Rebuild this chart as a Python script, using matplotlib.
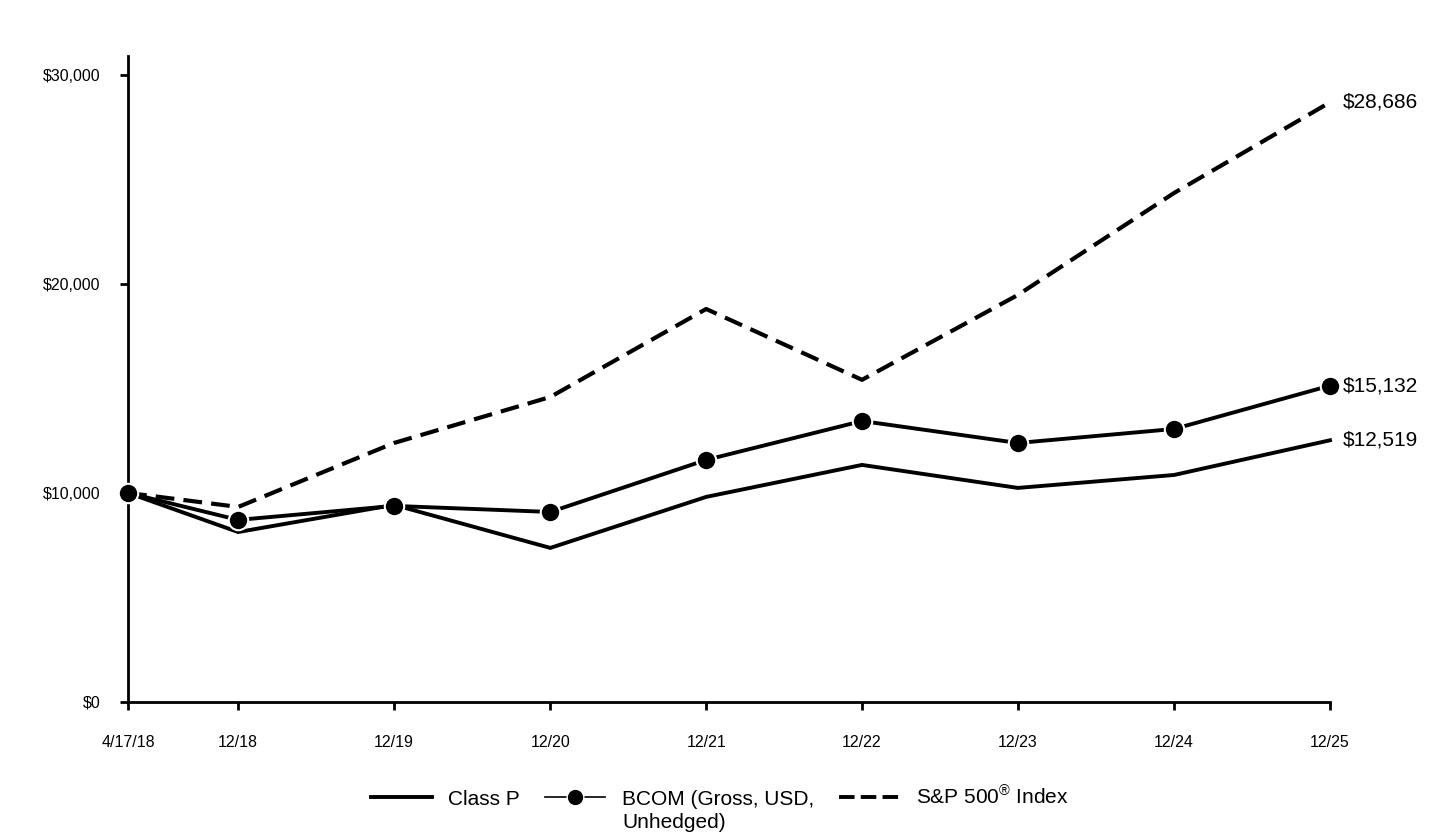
import numpy as np
import pandas as pd
import matplotlib
matplotlib.use('Agg')
import matplotlib.pyplot as plt
from matplotlib.lines import Line2D
from matplotlib.ticker import FuncFormatter

plt.rcParams['font.family'] = ['Liberation Sans', 'DejaVu Sans']
plt.rcParams['mathtext.fontset'] = 'custom'
plt.rcParams['mathtext.rm'] = 'Liberation Sans'
plt.rcParams['mathtext.it'] = 'Liberation Sans'

# data
dates = pd.to_datetime(['2018-04-17', '2018-12-31', '2019-12-31', '2020-12-31',
                        '2021-12-31', '2022-12-31', '2023-12-31', '2024-12-31',
                        '2025-12-31'])
tick_labels = ['4/17/18', '12/18', '12/19', '12/20', '12/21', '12/22', '12/23', '12/24', '12/25']
class_p = [10000, 8130, 9430, 7370, 9810, 11340, 10240, 10860, 12519]
bcom = [10000, 8710, 9380, 9090, 11580, 13440, 12390, 13060, 15132]
sp500 = [10000, 9330, 12390, 14590, 18800, 15410, 19470, 24350, 28686]
yticks = [0, 10000, 20000, 30000]

fig = plt.figure(figsize=(14.4, 8.4), dpi=100)
ax = fig.add_axes([0.0889, 0.1643, 0.8347, 0.769])

ax.plot(dates, class_p, color='black', lw=2.8, solid_joinstyle='miter', clip_on=False)
ax.plot(dates, bcom, color='black', lw=2.8, marker='o', markersize=14,
        markerfacecolor='black', markeredgecolor='white', markeredgewidth=1.5,
        clip_on=False, zorder=3)
ax.plot(dates, sp500, color='black', lw=3, linestyle=(0, (4.5, 2.2)), clip_on=False)

# end labels
for vals in (sp500, bcom, class_p):
    ax.annotate('${:,.0f}'.format(vals[-1]), xy=(dates[-1], vals[-1]),
                xytext=(9, 0), textcoords='offset points', ha='left',
                va='center', fontsize=15, annotation_clip=False)

ax.set_xlim(dates[0], dates[-1])
ax.set_ylim(0, 30900)
ax.set_xticks(dates)
ax.set_xticklabels(tick_labels)
ax.set_yticks(yticks)
ax.yaxis.set_major_formatter(FuncFormatter(lambda v, p: '${:,.0f}'.format(v)))

for s in ['top', 'right']:
    ax.spines[s].set_visible(False)
for s in ['left', 'bottom']:
    ax.spines[s].set_linewidth(2)
ax.tick_params(axis='x', length=6, width=2, pad=18, labelsize=11.5)
ax.tick_params(axis='y', length=6, width=2, pad=14, labelsize=11.5)

handles = [
    Line2D([], [], color='black', lw=2.8),
    Line2D([], [], color='black', lw=1.2, marker='o', markersize=12,
           markerfacecolor='black', markeredgecolor='white'),
    Line2D([], [], color='black', lw=2.8, linestyle=(0, (4, 1.6))),
]
labels = ['Class P', 'BCOM (Gross, USD,', r'S&P 500$^{\circledR}$ Index']
leg = fig.legend(handles, labels, loc='center', bbox_to_anchor=(0.5, 0.051),
                 ncol=3, frameon=False, fontsize=15, handlelength=2.9,
                 handletextpad=0.8, columnspacing=1.2, borderaxespad=0)

# second line of the BCOM label, under the first
fig.canvas.draw()
bb = leg.get_texts()[1].get_window_extent().transformed(fig.transFigure.inverted())
fig.text(bb.x0, bb.y0 - 0.005, 'Unhedged)', fontsize=15, ha='left', va='top')

fig.savefig('out.png', dpi=100)
